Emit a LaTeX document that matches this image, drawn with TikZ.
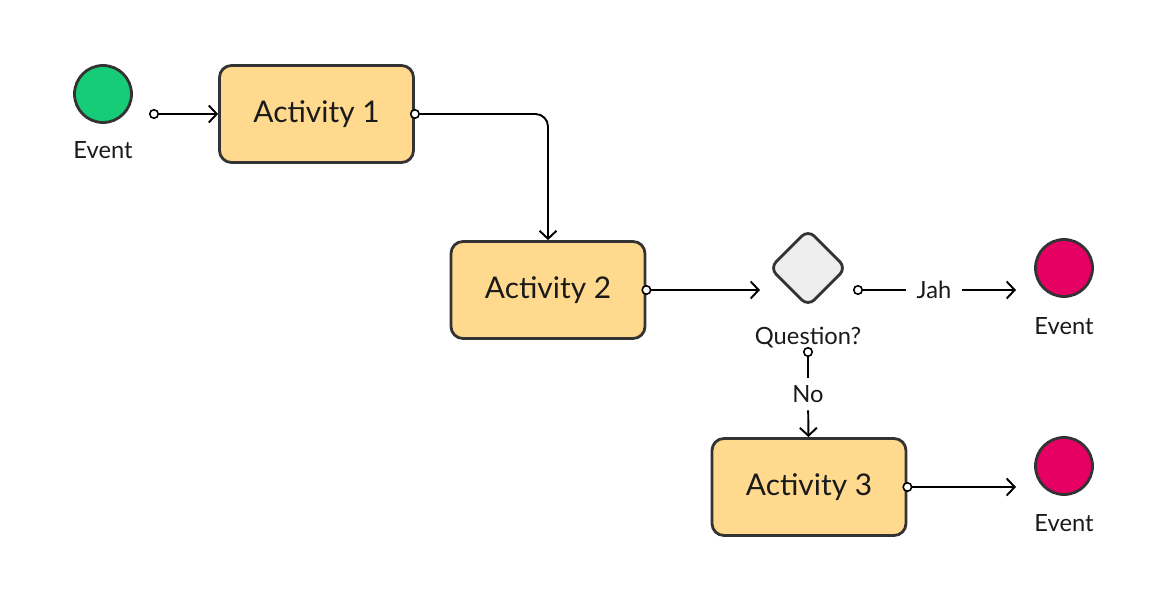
\documentclass[tikz,border=0pt]{standalone}
\usepackage{fontspec}
\setmainfont{Lato}
\usepackage{xcolor}
\usepackage{tikz}
\usetikzlibrary{shapes.geometric,arrows.meta,positioning,calc}

\definecolor{evgreen}{HTML}{17CC77}
\definecolor{evred}{HTML}{E60064}
\definecolor{actyellow}{HTML}{FFD98E}
\definecolor{gwgray}{HTML}{EEEEEE}
\definecolor{outline}{HTML}{333333}
\definecolor{ink}{HTML}{1A1A1A}

\begin{document}
\begin{tikzpicture}[
    event/.style={circle, draw=outline, line width=1.6pt, minimum size=1.14cm, inner sep=0pt},
    activity/.style={rectangle, rounded corners=0.24cm, draw=outline, line width=1.6pt, fill=actyellow,
        minimum width=3.88cm, minimum height=1.94cm, text=ink, font=\fontsize{17}{20}\selectfont},
    gateway/.style={rectangle, rotate=45, rounded corners=0.18cm, draw=outline, line width=1.6pt,
        fill=gwgray, minimum size=1.08cm, inner sep=0pt},
    txt/.style={text=ink, font=\fontsize{13.5}{16}\selectfont},
    dot/.style={circle, draw=black, fill=white, line width=0.9pt, minimum size=0.17cm, inner sep=0pt},
    flow/.style={line width=1.1pt, draw=black, -{Straight Barb[length=1.6mm,width=3.4mm]}},
    plain/.style={line width=1.1pt, draw=black}
]
    \useasboundingbox (0,0) rectangle (23.4,12);

    % events
    \node[event, fill=evgreen] (start) at (2.06,10.12) {};
    \node[txt] (startlbl) at (2.06,9.0) {Event};
    \node[event, fill=evred] (endyes) at (21.28,6.64) {};
    \node[txt] (endyeslbl) at (21.28,5.48) {Event};
    \node[event, fill=evred] (endno) at (21.28,2.68) {};
    \node[txt] (endnolbl) at (21.28,1.54) {Event};

    % activities
    \node[activity] (act1) at (6.33,9.72) {Activity 1};
    \node[activity] (act2) at (10.96,6.2) {Activity 2};
    \node[activity] (act3) at (16.18,2.26) {Activity 3};

    % gateway
    \node[gateway] (gw) at (16.16,6.64) {};
    \node[txt] (gwlbl) at (16.16,5.24) {Question?};
    \node[txt, inner sep=0.2cm] (yes) at (18.68,6.2) {Jah};
    \node[txt, inner sep=0.15cm] (no) at (16.16,4.12) {No};

    % connector ends
    \node[dot] (d0) at (3.08,9.72) {};
    \node[dot] (d1) at (act1.east) {};
    \node[dot] (d2) at (act2.east) {};
    \node[dot] (d3) at (17.16,6.2) {};
    \node[dot] (d4) at (16.16,4.96) {};
    \node[dot] (d5) at (act3.east) {};
    \coordinate (gwin) at (15.2,6.2);
    \coordinate (yesin) at (20.32,6.2);
    \coordinate (noin) at (20.32,2.26);

    % flows
    \draw[flow] (d0) -- (act1);
    \draw[flow, rounded corners=0.25cm] (d1) -| (act2.north);
    \draw[flow] (d2) -- (gwin);
    \draw[plain] (d3) -- (yes);
    \draw[flow] (yes) -- (yesin);
    \draw[plain] (d4) -- (no);
    \draw[flow] (no) -- (act3);
    \draw[flow] (d5) -- (noin);
\end{tikzpicture}
\end{document}
